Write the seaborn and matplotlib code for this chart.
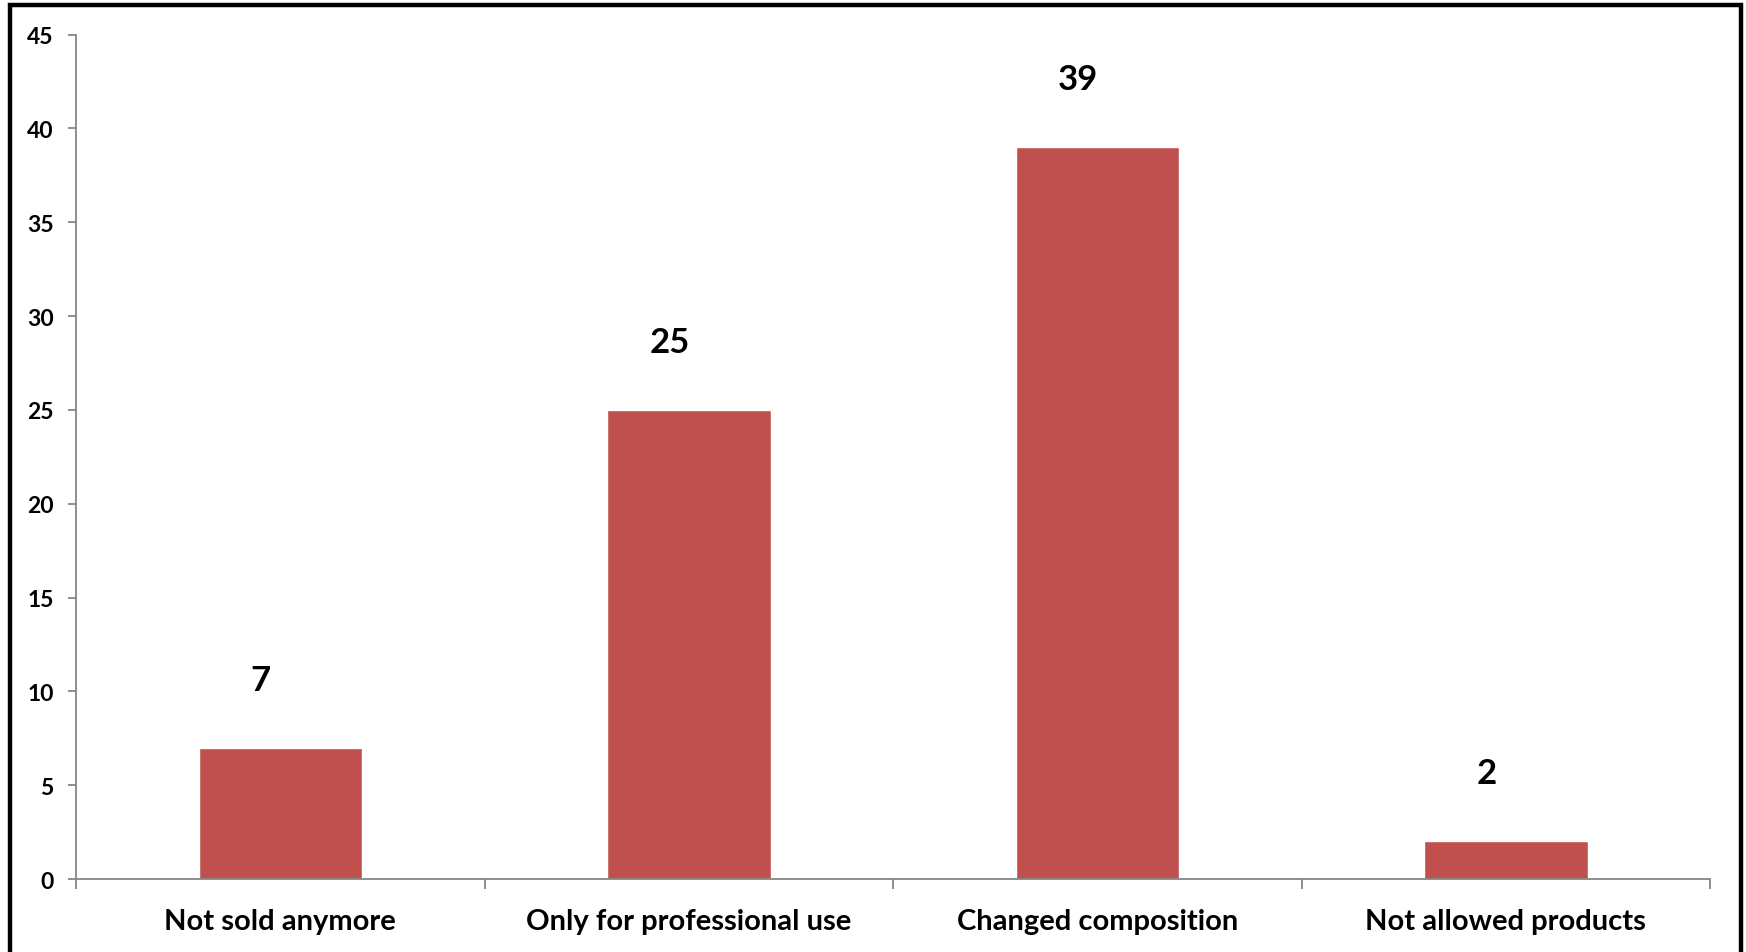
import matplotlib
matplotlib.use("Agg")
import matplotlib.pyplot as plt
import seaborn as sns
import pandas as pd
from matplotlib.patches import Rectangle
from matplotlib.ticker import FixedLocator

categories = ["Not sold anymore", "Only for professional use", "Changed composition", "Not allowed products"]
counts = [7, 25, 39, 2]
y_ticks = [0, 5, 10, 15, 20, 25, 30, 35, 40, 45]

sns.set_style("white")
plt.rcParams["font.family"] = ["Lato", "DejaVu Sans"]

df = pd.DataFrame({"category": categories, "count": counts})

fig = plt.figure(figsize=(17.46, 9.53), dpi=100)
ax = fig.add_axes([0.0435, 0.0766, 0.936, 0.886])

sns.barplot(data=df, x="category", y="count", color="#C0504D", width=0.4,
            saturation=1, ax=ax)

ax.set_xlim(-0.5, len(categories) - 0.5)
ax.set_ylim(0, 45)
ax.set_yticks(y_ticks)
ax.set_xlabel("")
ax.set_ylabel("")

# value labels above bars (Excel puts them slightly left of centre)
for i, v in enumerate(counts):
    ax.annotate(str(v), xy=(i, v), xytext=(-14, 49), textcoords="offset points",
                ha="center", va="center", fontsize=25, fontweight="bold", color="black")

# axes styling
axis_grey = "#868686"
for side in ["top", "right"]:
    ax.spines[side].set_visible(False)
for side in ["left", "bottom"]:
    ax.spines[side].set_color(axis_grey)
    ax.spines[side].set_linewidth(1.3)

ax.tick_params(axis="y", direction="out", length=6, width=1.3, color=axis_grey,
               labelsize=16.5, pad=10, left=True)
ax.tick_params(axis="x", which="major", length=0, labelsize=21, pad=21)
ax.xaxis.set_minor_locator(FixedLocator([i - 0.5 for i in range(len(categories) + 1)]))
ax.tick_params(axis="x", which="minor", direction="out", length=7, width=1.3,
               color=axis_grey, bottom=True)
for lbl in ax.get_xticklabels() + ax.get_yticklabels():
    lbl.set_fontweight("bold")
    lbl.set_color("black")

# black frame around the chart area
fig.patches.append(Rectangle((0.0055, -0.02), 0.9915, 1.014, transform=fig.transFigure,
                             fill=False, edgecolor="black", linewidth=3.2))

fig.savefig("out.png", dpi=100)
